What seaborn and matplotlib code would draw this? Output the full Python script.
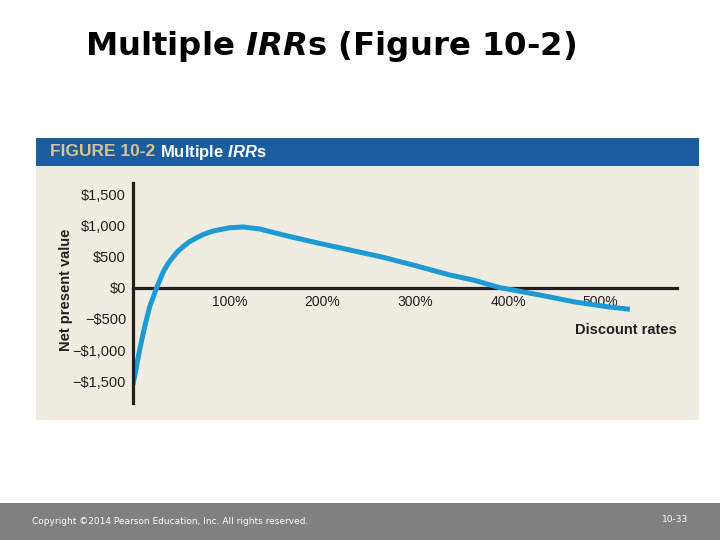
import matplotlib
matplotlib.use("Agg")
import matplotlib.pyplot as plt
import matplotlib.transforms as mtransforms
from matplotlib import font_manager
from matplotlib.patches import Rectangle
import seaborn as sns
import pandas as pd

# ---- data ----
discount_rates = [0, 2, 4.7, 7.5, 13, 18, 22, 25.5, 32.7, 38, 43.5, 48, 54, 61, 68.7,
                  77, 86.6, 104.6, 119, 137, 162, 198, 234, 270, 306, 342, 367, 396,
                  439, 475, 511, 536]
npv_values = [-1550, -1400, -1186, -970, -600, -305, -144, 0, 256, 391, 497, 577, 657,
              737, 801, 860, 909, 962, 973, 940, 845, 721, 604, 487, 348, 203, 123, 0,
              -117, -224, -304, -346]
x_ticks = [100, 200, 300, 400, 500]
x_tick_labels = ["100%", "200%", "300%", "400%", "500%"]
y_ticks = [1500, 1000, 500, 0, -500, -1000, -1500]
y_tick_labels = ["$1,500", "$1,000", "$500", "$0", "\u2212$500", "\u2212$1,000", "\u2212$1,500"]

sns.set_style("white")
names = {f.name for f in font_manager.fontManager.ttflist}
narrow = "Liberation Sans Narrow" if "Liberation Sans Narrow" in names else "Liberation Sans"
plt.rcParams["font.family"] = [narrow, "DejaVu Sans"]
plt.rcParams["mathtext.fontset"] = "custom"
plt.rcParams["mathtext.it"] = f"{narrow}:italic:bold"
plt.rcParams["mathtext.bfit"] = "DejaVu Sans:italic:bold"

W, H = 720, 540
fig = plt.figure(figsize=(7.2, 5.4), dpi=100)
fig.patch.set_facecolor("white")

def fx(px):
    return px / W

def fy(py):
    return 1 - py / H

# panel background and header band
fig.patches.append(Rectangle((fx(36), fy(420)), fx(663), (420 - 166) / H,
                             transform=fig.transFigure, facecolor="#efede2",
                             edgecolor="none", zorder=-5))
fig.patches.append(Rectangle((fx(36), fy(166)), fx(663), 28 / H,
                             transform=fig.transFigure, facecolor="#1b5d9f",
                             edgecolor="none", zorder=-5))
# footer band
fig.patches.append(Rectangle((0, 0), 1, 37 / H, transform=fig.transFigure,
                             facecolor="#808080", edgecolor="none", zorder=-5))

# main title
fig.text(fx(85), fy(47), r"Multiple $\mathbfit{IRR}$s (Figure 10-2)",
         family="DejaVu Sans", fontweight="bold", fontsize=23.3,
         va="center", ha="left", color="black")

# header texts
fig.text(fx(50), fy(152), "FIGURE 10-2", fontweight="bold", fontsize=12.5,
         color="#d8c48e", va="center", ha="left")
fig.text(fx(160), fy(152), r"Multiple $\mathit{IRR}$s", fontweight="bold",
         fontsize=12, color="white", va="center", ha="left")

# footer texts
fig.text(fx(32), fy(521), "Copyright \u00a92014 Pearson Education, Inc. All rights reserved.",
         family="DejaVu Sans", fontsize=6.5, color="white", va="center", ha="left")
fig.text(fx(662), fy(520), "10-33", family="DejaVu Sans", fontsize=6.5,
         color="white", va="center", ha="left")

# axes: x=0 at px 133, 92.7 px per 100 %; y=0 at py 287.7, 0.0624 px per $
left_px, right_px, top_px, bottom_px = 133, 677, 183, 403
ax = fig.add_axes([fx(left_px), fy(bottom_px), (right_px - left_px) / W,
                   (bottom_px - top_px) / H])
ax.patch.set_alpha(0)
x_scale = 0.927
y_scale = 0.0624
y0 = 287.7
ax.set_xlim(0, (right_px - left_px) / x_scale)
ax.set_ylim((y0 - bottom_px) / y_scale, (y0 - top_px) / y_scale)

df = pd.DataFrame({"rate": discount_rates, "npv": npv_values})
sns.lineplot(data=df, x="rate", y="npv", ax=ax, color="#1d9ad6",
             linewidth=3.6, solid_capstyle="butt", solid_joinstyle="round", zorder=3)

axis_color = "#231f20"
for s in ["top", "right"]:
    ax.spines[s].set_visible(False)
ax.spines["left"].set_linewidth(2.3)
ax.spines["left"].set_color(axis_color)
ax.spines["bottom"].set_position(("data", 0))
ax.spines["bottom"].set_linewidth(2.3)
ax.spines["bottom"].set_color(axis_color)
ax.spines["left"].set_zorder(4)
ax.spines["bottom"].set_zorder(2)

ax.set_xticks(x_ticks)
ax.set_xticklabels(x_tick_labels)
ax.set_yticks(y_ticks)
ax.set_yticklabels(y_tick_labels)
ax.tick_params(axis="x", direction="in", length=4, width=0.7, color="#888888",
               pad=5, labelsize=10, labelcolor=axis_color)
ax.tick_params(axis="y", direction="in", length=5, width=0.8, color="#555555",
               pad=5, labelsize=10.5, labelcolor=axis_color)
offset = mtransforms.ScaledTranslation(3 / 72, 0, fig.dpi_scale_trans)
for lbl in ax.get_xticklabels():
    lbl.set_transform(lbl.get_transform() + offset)
ax.set_xlabel("")
ax.set_ylabel("")

fig.text(fx(677), fy(330), "Discount rates", fontweight="bold", fontsize=10.5,
         color=axis_color, va="center", ha="right")
fig.text(fx(66), fy(290), "Net present value", fontweight="bold", fontsize=10.5,
         color=axis_color, va="center", ha="center", rotation=90)

fig.savefig("out.png", dpi=100, facecolor="white")
